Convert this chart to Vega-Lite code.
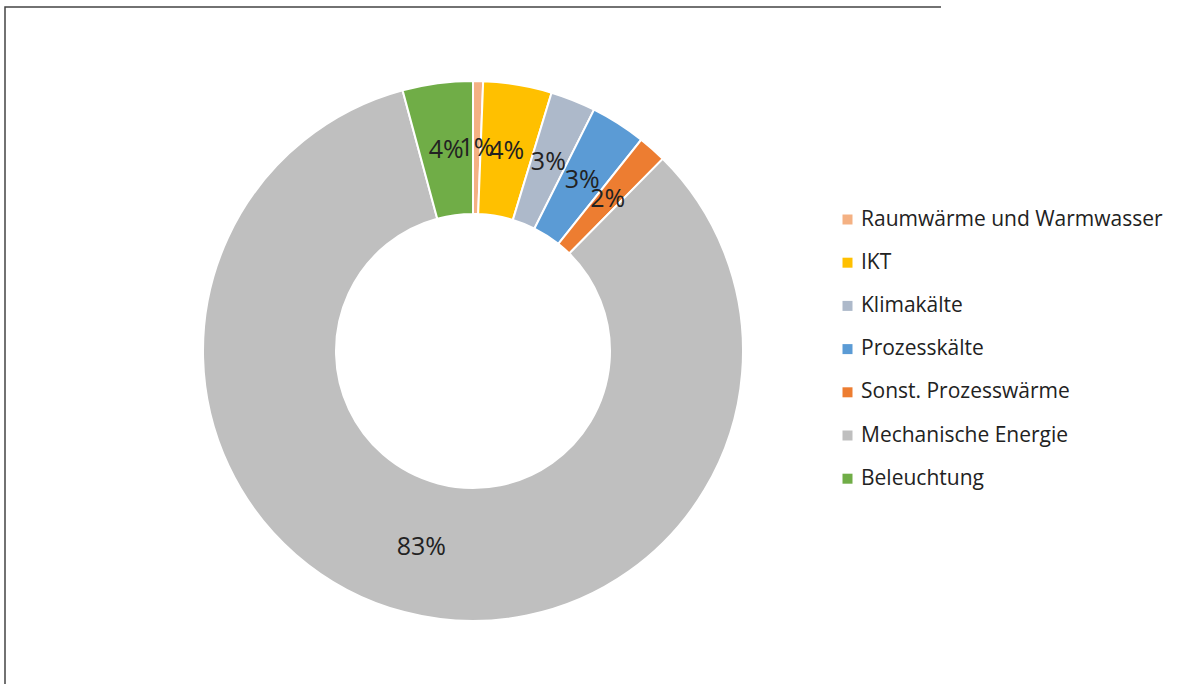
{
  "$schema": "https://vega.github.io/schema/vega-lite/v6.json",
  "autosize": {"type": "none"},
  "padding": {"left": 5, "top": 7, "right": 255, "bottom": 0},
  "width": 936,
  "height": 688,
  "background": "white",
  "view": {"stroke": "#444444", "strokeWidth": 1.5, "strokeDash": [936, 1624, 688]},
  "config": {
    "font": "Open Sans"
  },
  "data": {
    "values": [
      {"Kategorie": "Raumwärme und Warmwasser", "Anteil": 0.006, "Reihenfolge": 1},
      {"Kategorie": "IKT", "Anteil": 0.041, "Reihenfolge": 2},
      {"Kategorie": "Klimakälte", "Anteil": 0.027, "Reihenfolge": 3},
      {"Kategorie": "Prozesskälte", "Anteil": 0.033, "Reihenfolge": 4},
      {"Kategorie": "Sonst. Prozesswärme", "Anteil": 0.017, "Reihenfolge": 5},
      {"Kategorie": "Mechanische Energie", "Anteil": 0.834, "Reihenfolge": 6},
      {"Kategorie": "Beleuchtung", "Anteil": 0.042, "Reihenfolge": 7}
    ]
  },
  "encoding": {
    "theta": {"field": "Anteil", "type": "quantitative", "stack": true},
    "order": {"field": "Reihenfolge", "type": "quantitative"}
  },
  "layer": [
    {
      "mark": {"type": "arc", "outerRadius": 270, "innerRadius": 137, "stroke": "white", "strokeWidth": 2},
      "encoding": {
        "color": {
          "field": "Kategorie",
          "type": "nominal",
          "scale": {
            "domain": ["Raumwärme und Warmwasser", "IKT", "Klimakälte", "Prozesskälte", "Sonst. Prozesswärme", "Mechanische Energie", "Beleuchtung"],
            "range": ["#F4B183", "#FFC000", "#ADB9CA", "#5B9BD5", "#ED7D31", "#BFBFBF", "#70AD47"]
          },
          "legend": {
            "title": null,
            "orient": "none",
            "legendX": 832,
            "legendY": 202,
            "symbolType": "square",
            "symbolSize": 100,
            "symbolStrokeWidth": 0,
            "labelFontSize": 21,
            "labelFont": "Open Sans",
            "labelColor": "#222222",
            "labelLimit": 400,
            "rowPadding": 21.2,
            "labelOffset": 3,
            "padding": 0
          }
        }
      }
    },
    {
      "mark": {"type": "text", "radius": 203, "fontSize": 25, "font": "Open Sans", "color": "#222222"},
      "encoding": {
        "text": {"field": "Anteil", "type": "quantitative", "format": ".0%"}
      }
    }
  ]
}
